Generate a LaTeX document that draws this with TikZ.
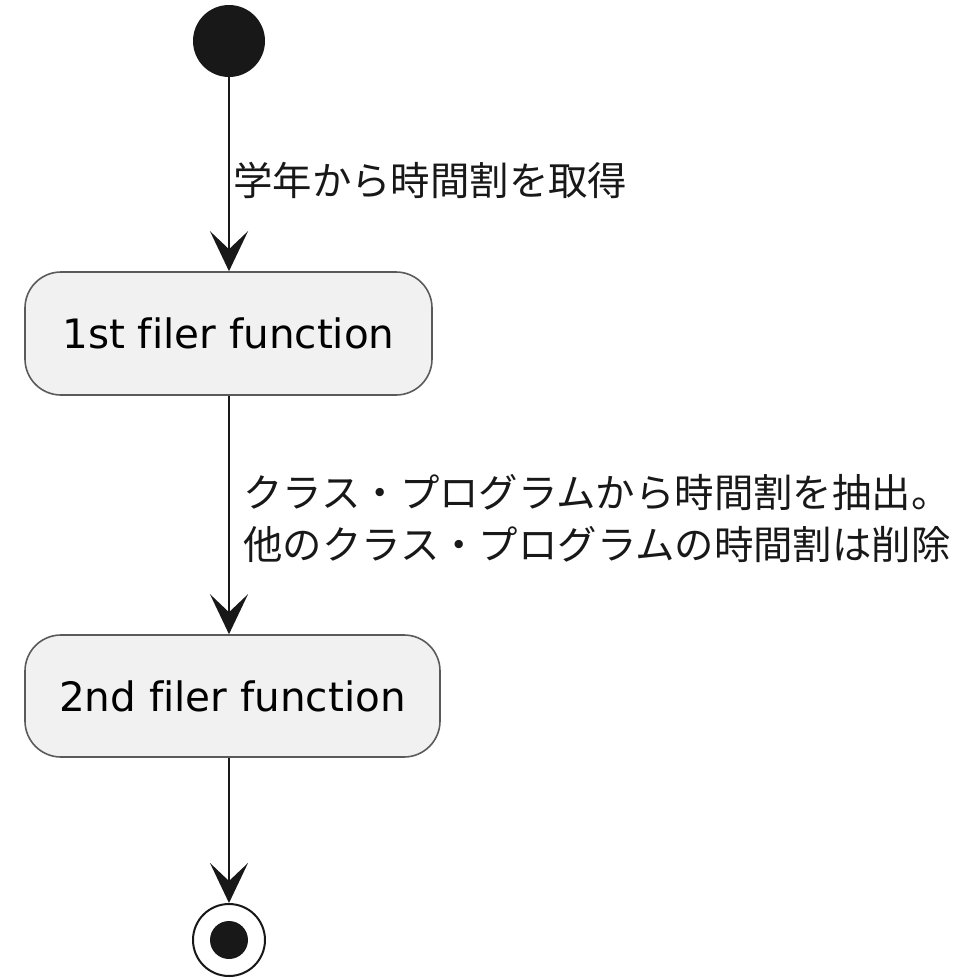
\documentclass[tikz,border=0pt]{standalone}
\usepackage{fontspec}
\setmainfont[Ligatures=NoCommon]{DejaVu Sans}
\newfontfamily\cjk{Noto Sans CJK JP}
\usetikzlibrary{arrows.meta}
\definecolor{boxfill}{HTML}{F1F1F1}
\definecolor{boxline}{HTML}{5A5A5A}
\definecolor{ink}{HTML}{181818}
\begin{document}
\begin{tikzpicture}[x=1pt,y=-1pt,
  actbox/.style={draw=boxline, line width=1.6pt, fill=boxfill, rounded corners=36pt,
    inner sep=0pt, font=\fontsize{40.5}{48}\selectfont},
  flow/.style={draw=ink, line width=2pt, -{Stealth[length=40pt,width=38pt,inset=18pt]}},
  lbl/.style={font=\cjk\fontsize{39.4}{52}\selectfont, anchor=west, inner sep=0pt, align=left, text=ink}]
\useasboundingbox (0,0) rectangle (959,980);
\node[circle, fill=ink, minimum size=72pt, inner sep=0pt] (start) at (229,41) {};
\node[actbox, minimum width=407pt, minimum height=123pt] (a1) at (228.5,333.5) {1st filer function};
\node[actbox, minimum width=415pt, minimum height=122pt] (a2) at (232.5,696) {2nd filer function};
\node[circle, draw=ink, line width=2pt, minimum size=72pt, inner sep=0pt] (end) at (229,940) {};
\node[circle, fill=ink, minimum size=38pt, inner sep=0pt] (endin) at (end.center) {};
\draw[flow] (start) -- (start |- a1.north);
\draw[flow] (a1.south -| start) -- (start |- a2.north);
\draw[flow] (a2.south -| start) -- (end.north);
\node[lbl] (l1) at (233,180) {学年から時間割を取得};
\node[lbl] (l2) at (243,519) {クラス・プログラムから時間割を抽出。\\他のクラス・プログラムの時間割は削除};
\end{tikzpicture}
\end{document}
